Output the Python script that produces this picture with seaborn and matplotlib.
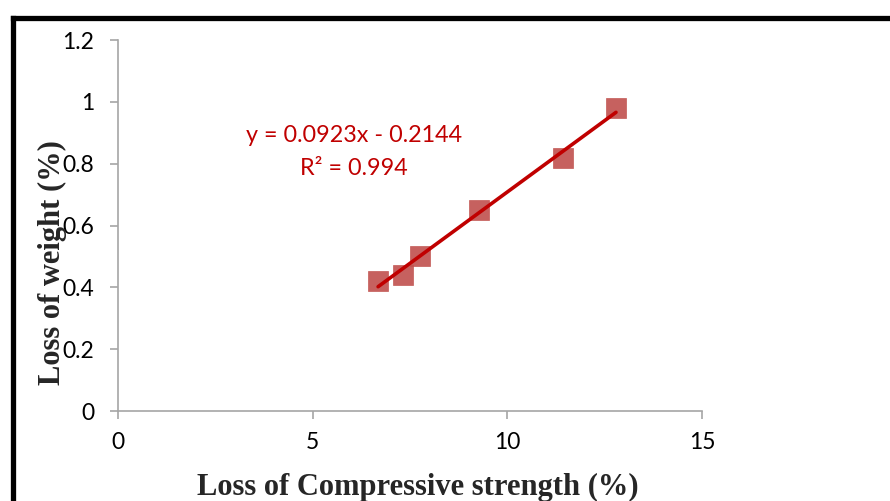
import matplotlib
matplotlib.use("Agg")
import matplotlib.pyplot as plt
import numpy as np
import pandas as pd
import seaborn as sns
from matplotlib.lines import Line2D
from matplotlib.ticker import FuncFormatter

# data
loss_compressive = [6.68, 7.32, 7.76, 9.27, 11.43, 12.79]
loss_weight = [0.42, 0.44, 0.50, 0.65, 0.82, 0.98]
slope, intercept = 0.0923, -0.2144
r_squared = 0.994
x_ticks = [0, 5, 10, 15]
y_ticks = [0, 0.2, 0.4, 0.6, 0.8, 1.0, 1.2]

df = pd.DataFrame({"x": loss_compressive, "y": loss_weight})

sns.set_style("white")
plt.rcParams["font.family"] = ["Lato", "DejaVu Sans"]

fig = plt.figure(figsize=(8.9, 5.01), dpi=100)
ax = fig.add_axes([0.1326, 0.1796, 0.6562, 0.7405])

sns.scatterplot(data=df, x="x", y="y", ax=ax, marker="s", s=200,
                color="#C0504D", edgecolor="#C0504D", alpha=0.9,
                linewidth=0.5, zorder=3)

# linear trendline over the data range
xs = np.array([min(loss_compressive), max(loss_compressive)])
ax.plot(xs, slope * xs + intercept, color="#C00000", lw=2.6, zorder=4)

ax.text(6.05, 0.89, f"y = {slope}x - {abs(intercept)}", color="#C00000",
        fontsize=16.8, ha="center", va="center")
ax.text(6.05, 0.785, f"R² = {r_squared}", color="#C00000",
        fontsize=16.8, ha="center", va="center")

ax.set_xlim(0, 15)
ax.set_ylim(0, 1.2)
ax.set_xticks(x_ticks)
ax.set_yticks(y_ticks)
ax.yaxis.set_major_formatter(FuncFormatter(lambda v, p: f"{v:g}"))
ax.tick_params(axis="both", direction="out", length=6, width=1.2,
               color="#A6A6A6", labelsize=16.5, labelcolor="black",
               bottom=True, left=True)
ax.tick_params(axis="y", pad=11)
ax.tick_params(axis="x", pad=9)

for side in ["top", "right"]:
    ax.spines[side].set_visible(False)
for side in ["left", "bottom"]:
    ax.spines[side].set_color("#A6A6A6")
    ax.spines[side].set_linewidth(1.2)

label_font = dict(family="Liberation Serif", fontweight="bold", fontsize=22)
ax.set_xlabel("Loss of Compressive strength (%)", **label_font)
ax.set_ylabel("Loss of weight (%)", **label_font)
ax.xaxis.set_label_coords(0.514, -0.168)
ax.yaxis.set_label_coords(-0.087, 0.40)

# outer frame (left and top visible)
fx = 12.5 / 890
fy = 1 - 17.5 / 501
fig.add_artist(Line2D([fx, fx], [0, fy], transform=fig.transFigure,
                      color="black", lw=3.8, solid_capstyle="projecting"))
fig.add_artist(Line2D([fx, 1], [fy, fy], transform=fig.transFigure,
                      color="black", lw=3.8, solid_capstyle="projecting"))

fig.savefig("out.png", dpi=100)
